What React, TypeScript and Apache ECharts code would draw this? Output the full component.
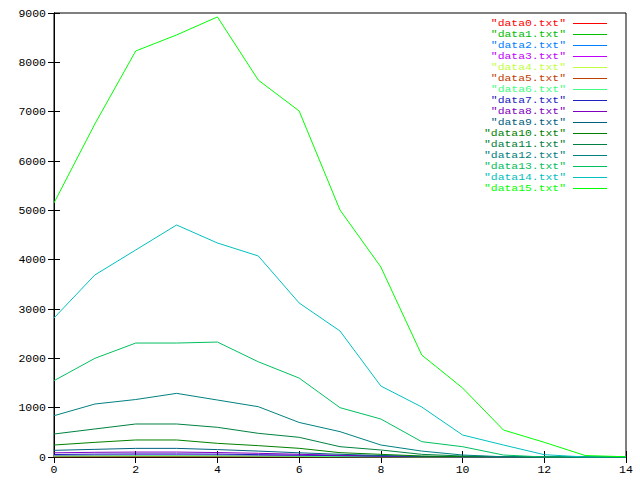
import React, { useEffect, useRef } from "react";
import * as echarts from "echarts";

const xValues = [0, 1, 2, 3, 4, 5, 6, 7, 8, 9, 10, 11, 12, 13, 14];

const seriesNames = [
  '"data0.txt"', '"data1.txt"', '"data2.txt"', '"data3.txt"',
  '"data4.txt"', '"data5.txt"', '"data6.txt"', '"data7.txt"',
  '"data8.txt"', '"data9.txt"', '"data10.txt"', '"data11.txt"',
  '"data12.txt"', '"data13.txt"', '"data14.txt"', '"data15.txt"',
];

const seriesColors = [
  "#ff0000", "#00c000", "#0080ff", "#c000ff",
  "#c0ff40", "#c04000", "#40ff80", "#2020c0",
  "#8000c0", "#006080", "#008000", "#008040",
  "#008080", "#00c060", "#00c0c0", "#00ff00",
];

const data0 = [3, 4, 5, 5, 4, 3, 2, 1, 1, 0, 0, 0, 0, 0, 0];
const data1 = [8, 10, 12, 12, 11, 9, 7, 5, 3, 1, 0, 0, 0, 0, 0];
const data2 = [12, 14, 16, 16, 15, 12, 9, 6, 4, 2, 1, 0, 0, 0, 0];
const data3 = [30, 35, 40, 40, 38, 32, 25, 18, 10, 5, 2, 0, 0, 0, 0];
const data4 = [14, 16, 18, 18, 16, 13, 10, 7, 4, 2, 1, 0, 0, 0, 0];
const data5 = [6, 7, 8, 8, 7, 6, 4, 3, 2, 1, 0, 0, 0, 0, 0];
const data6 = [20, 22, 24, 24, 22, 18, 14, 10, 6, 3, 1, 0, 0, 0, 0];
const data7 = [50, 58, 62, 62, 58, 48, 38, 26, 15, 8, 3, 1, 0, 0, 0];
const data8 = [85, 95, 100, 100, 90, 75, 55, 35, 20, 10, 4, 1, 0, 0, 0];
const data9 = [135, 155, 175, 175, 150, 120, 85, 55, 30, 12, 5, 0, 0, 0, 0];
const data10 = [243, 297, 345, 345, 277, 230, 176, 88, 54, 20, 8, 2, 0, 0, 0];
const data11 = [466, 568, 669, 669, 602, 480, 399, 209, 142, 54, 20, 5, 0, 0, 0];
const data12 = [837, 1074, 1165, 1290, 1155, 1020, 700, 514, 243, 120, 40, 5, 0, 0, 0];
const data13 = [1547, 2000, 2310, 2310, 2330, 1930, 1600, 1000, 770, 311, 209, 40, 0, 0, 0];
const data14 = [2818, 3690, 4196, 4703, 4338, 4075, 3122, 2554, 1439, 1014, 446, 243, 47, 0, 0];
const data15 = [5150, 6750, 8230, 8555, 8920, 7640, 7014, 5007, 3851, 2068, 1399, 547, 298, 30, 5];

const allData = [
  data0, data1, data2, data3, data4, data5, data6, data7,
  data8, data9, data10, data11, data12, data13, data14, data15,
];

const FONT = "Liberation Mono";
const FONT_SIZE = 11.5;
const LEGEND_FONT_SIZE = 9.5;

export default function App() {
  const ref = useRef<HTMLDivElement>(null);
  useEffect(() => {
    if (!ref.current) return;
    const chart = echarts.init(ref.current, undefined, { renderer: "svg" });

    const axisCommon = {
      type: "value" as const,
      axisLine: { show: true, lineStyle: { color: "#000", width: 1 } },
      axisTick: { show: true, inside: true, length: 6, lineStyle: { color: "#000", width: 1 } },
      splitLine: { show: false },
    };

    const legendGraphics: any[] = [];
    seriesNames.forEach((name, i) => {
      const y = 23 + i * 11;
      legendGraphics.push({
        type: "text",
        x: 566,
        y,
        scaleX: 1.2,
        scaleY: 1,
        style: {
          text: name,
          fill: seriesColors[i],
          font: `${LEGEND_FONT_SIZE}px "${FONT}"`,
          align: "right",
          verticalAlign: "middle",
        },
      });
      legendGraphics.push({
        type: "line",
        shape: { x1: 573, y1: y + 0.5, x2: 607, y2: y + 0.5 },
        style: { stroke: seriesColors[i], lineWidth: 1 },
      });
    });

    chart.setOption({
      animation: false,
      backgroundColor: "#fff",
      textStyle: { fontFamily: FONT },
      grid: {
        left: 54,
        right: 14,
        top: 13,
        bottom: 23,
        show: true,
        borderColor: "#000",
        borderWidth: 1,
        backgroundColor: "transparent",
      },
      xAxis: [
        {
          ...axisCommon,
          min: 0,
          max: 14,
          interval: 2,
          position: "bottom",
          axisLabel: {
            color: "#000",
            fontSize: FONT_SIZE,
            fontFamily: FONT,
            margin: 6,
            formatter: (v: number) => String(v),
          },
        },
        {
          ...axisCommon,
          min: 0,
          max: 14,
          interval: 2,
          position: "top",
          axisLabel: { show: false },
        },
      ],
      yAxis: [
        {
          ...axisCommon,
          min: 0,
          max: 9000,
          interval: 1000,
          position: "left",
          axisLabel: {
            color: "#000",
            fontSize: FONT_SIZE,
            fontFamily: FONT,
            margin: 8,
            formatter: (v: number) => String(v),
          },
        },
        {
          ...axisCommon,
          min: 0,
          max: 9000,
          interval: 1000,
          position: "right",
          axisLabel: { show: false },
        },
      ],
      series: allData.map((d, i) => ({
        name: seriesNames[i],
        type: "line",
        xAxisIndex: 0,
        yAxisIndex: 0,
        data: d.map((v, j) => [xValues[j], v]),
        showSymbol: false,
        symbol: "none",
        lineStyle: { color: seriesColors[i], width: 1 },
        itemStyle: { color: seriesColors[i] },
        z: 2 + i * 0.01,
      })),
      graphic: legendGraphics,
    });

    return () => chart.dispose();
  }, []);

  return <div ref={ref} style={{ width: 640, height: 480, position: "absolute", left: 0, top: 0 }} />;
}
